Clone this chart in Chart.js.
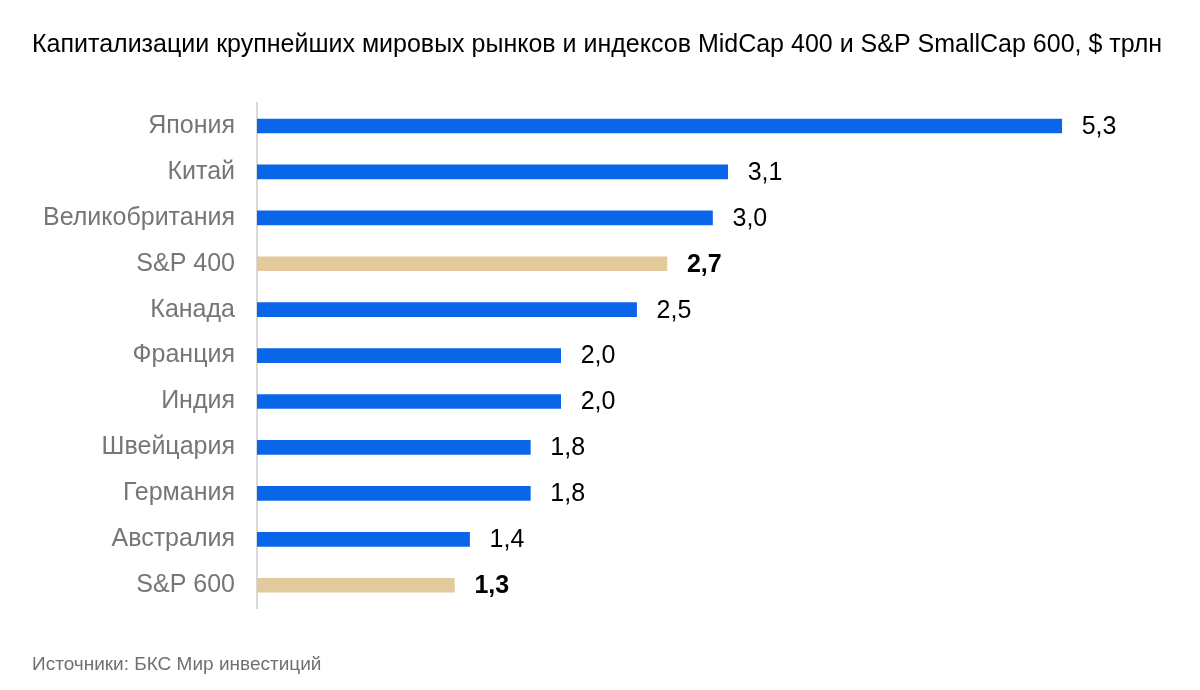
<!DOCTYPE html>
<html>
<head>
<meta charset="utf-8">
<script src="https://cdn.jsdelivr.net/npm/chart.js@4"></script>
<style>
  html, body { margin: 0; padding: 0; background: #ffffff; }
  #wrap { width: 1200px; height: 690px; }
</style>
</head>
<body>
<div id="wrap"><canvas id="c" width="1200" height="690"></canvas></div>
<script>
const categories = ["Япония", "Китай", "Великобритания", "S&P 400", "Канада", "Франция", "Индия", "Швейцария", "Германия", "Австралия", "S&P 600"];
const values = [5.3, 3.1, 3.0, 2.7, 2.5, 2.0, 2.0, 1.8, 1.8, 1.4, 1.3];
const highlighted = [false, false, false, true, false, false, false, false, false, false, true];
const titleText = "Капитализации крупнейших мировых рынков и индексов MidCap 400 и S&P SmallCap 600, $ трлн";
const sourceText = "Источники: БКС Мир инвестиций";

const BLUE = "#0a66e8";
const BEIGE = "#e2ca9c";
const FONT = "'Liberation Sans', Arial, sans-serif";

const valueLabels = {
  id: "valueLabels",
  afterDatasetsDraw(chart) {
    const ctx = chart.ctx;
    const meta = chart.getDatasetMeta(0);
    ctx.save();
    ctx.textBaseline = "middle";
    ctx.textAlign = "left";
    meta.data.forEach((bar, i) => {
      ctx.font = (highlighted[i] ? "bold " : "") + "25px " + FONT;
      ctx.fillStyle = "#000000";
      ctx.fillText(values[i].toFixed(1).replace(".", ","), bar.x + 20, bar.y + 1);
    });
    ctx.restore();
  }
};

new Chart(document.getElementById("c"), {
  type: "bar",
  data: {
    labels: categories,
    datasets: [{
      data: values,
      backgroundColor: highlighted.map(h => h ? BEIGE : BLUE),
      barThickness: 14,
      borderWidth: 0
    }]
  },
  options: {
    indexAxis: "y",
    responsive: false,
    animation: false,
    layout: { padding: { left: 32, right: 32, top: 0, bottom: 0 } },
    scales: {
      x: {
        display: false,
        min: 0,
        max: 6
      },
      y: {
        afterFit(scale) { scale.width = 225; },
        grid: { display: false, drawTicks: false },
        border: { display: true, color: "#d9d9d9", width: 2 },
        ticks: {
          padding: 22,
          color: "#767676",
          font: { family: FONT, size: 25 }
        }
      }
    },
    plugins: {
      legend: { display: false },
      tooltip: { enabled: false },
      title: {
        display: true,
        text: titleText,
        align: "start",
        color: "#000000",
        font: { family: FONT, size: 25, weight: "normal" },
        padding: { top: 30, bottom: 43 }
      },
      subtitle: {
        display: true,
        position: "bottom",
        text: sourceText,
        align: "start",
        color: "#707070",
        font: { family: FONT, size: 19, weight: "normal" },
        padding: { top: 45, bottom: 14 }
      }
    }
  },
  plugins: [valueLabels]
});
</script>
</body>
</html>
